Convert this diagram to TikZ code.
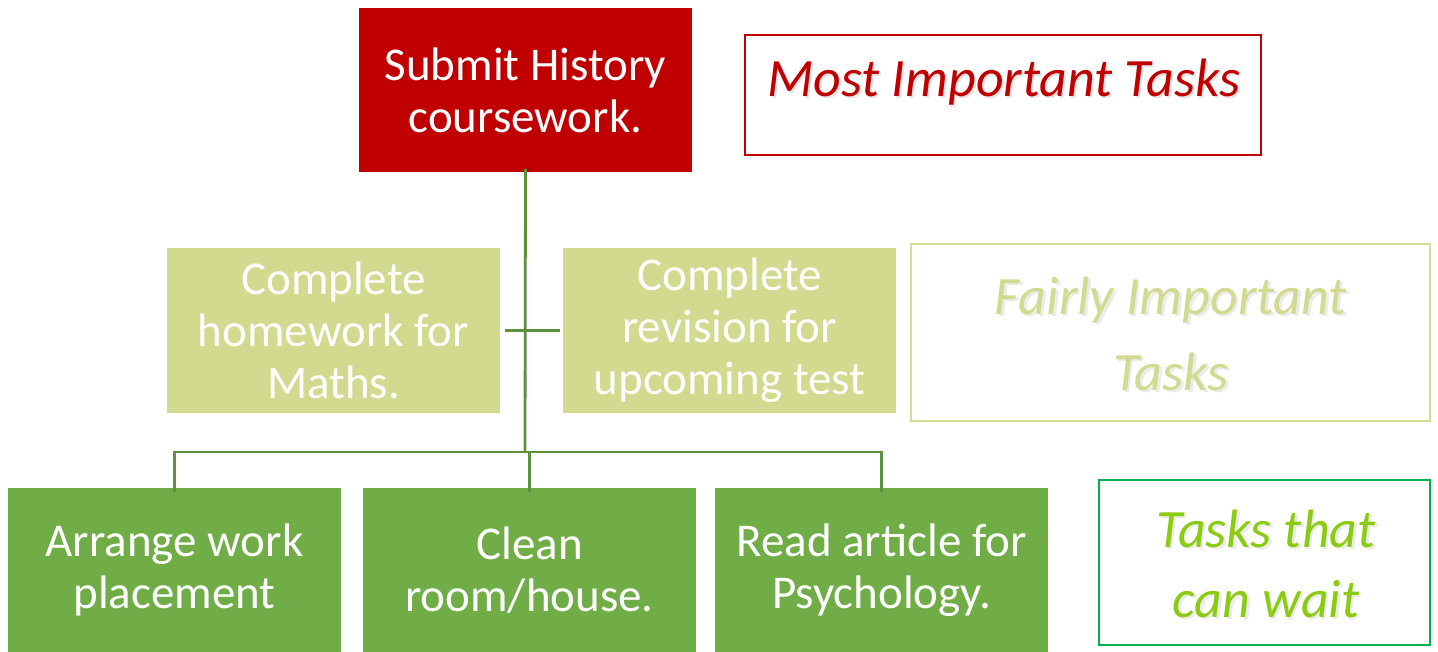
\documentclass[tikz,border=0pt]{standalone}
\usepackage{fontspec}
\setmainfont{Carlito}
\definecolor{topred}{HTML}{C00000}
\definecolor{midgreen}{HTML}{D1DA8F}
\definecolor{lowgreen}{HTML}{70AD47}
\definecolor{linkgreen}{HTML}{5E913B}
\definecolor{waitgreen}{HTML}{8CCB14}
\definecolor{waitborder}{HTML}{00B050}
\definecolor{fairborder}{HTML}{D3DD94}
\begin{document}
\begin{tikzpicture}[x=1pt,y=-1pt,
  box/.style={inner sep=0pt, outer sep=0pt, text=white, align=center,
    font=\fontsize{47}{52}\selectfont},
  topbox/.style={box, fill=topred, minimum width=333, minimum height=164},
  midbox/.style={box, fill=midgreen, minimum width=333, minimum height=165},
  lowbox/.style={box, fill=lowgreen, minimum width=333, minimum height=164},
  link/.style={draw=linkgreen, line width=2.8pt},
  legend/.style={inner sep=0pt, outer sep=0pt, line width=2.2pt, align=center},
  legtext/.style={align=center, font=\itshape\fontsize{54}{60}\selectfont},
  shadowtext/.style={legtext, text=black!10}
]
\useasboundingbox (0,0) rectangle (1438,652);

% hierarchy nodes
\node[topbox] (top) at (525.5,90) {Submit History\\coursework.};
\node[midbox] (ml) at (333.5,330.5) {Complete\\homework for\\Maths.};
\node[midbox] (mr) at (729.5,330.5) {Complete\\revision for\\upcoming test};
\node[lowbox] (la) at (174.5,570) {Arrange work\\placement};
\node[lowbox] (lb) at (529.5,570) {Clean\\room/house.};
\node[lowbox] (lc) at (881.5,570) {Read article for\\Psychology.};

% connectors
\coordinate (bus) at (525,452);
\draw[link] ([yshift=3]top.south) -- (bus);
\draw[link] ([xshift=5]ml.east) -- ([xshift=-3]mr.west);
\draw[link] ([yshift=-4]la.north) |- (bus);
\draw[link] ([yshift=-4]lc.north) |- (bus);
\draw[link] ([yshift=-4]lb.north) -- (lb.north |- bus);

% legend boxes
\node[legend, draw=topred, minimum width=516, minimum height=120] (k1) at (1003,95) {};
\node[shadowtext] at (1006,84.5) {Most Important Tasks};
\node[legtext, text=topred] (t1) at (1004,82.5) {Most Important Tasks};

\node[legend, draw=fairborder, minimum width=519, minimum height=177] (k2) at (1170.5,332.5) {};
\node[shadowtext, font=\itshape\fontsize{54}{76}\selectfont, text=black!8] at (1173.5,335.5) {Fairly Important\\Tasks};
\node[legtext, font=\itshape\fontsize{54}{76}\selectfont, text=midgreen] (t2) at (1171,333.5) {Fairly Important\\Tasks};

\node[legend, draw=waitborder, minimum width=331, minimum height=165] (k3) at (1264.5,562.5) {};
\node[shadowtext, font=\itshape\fontsize{54}{70}\selectfont, text=black!8] at (1268.5,565.5) {Tasks that\\can wait};
\node[legtext, font=\itshape\fontsize{54}{70}\selectfont, text=waitgreen] (t3) at (1266,563.5) {Tasks that\\can wait};
\end{tikzpicture}
\end{document}
